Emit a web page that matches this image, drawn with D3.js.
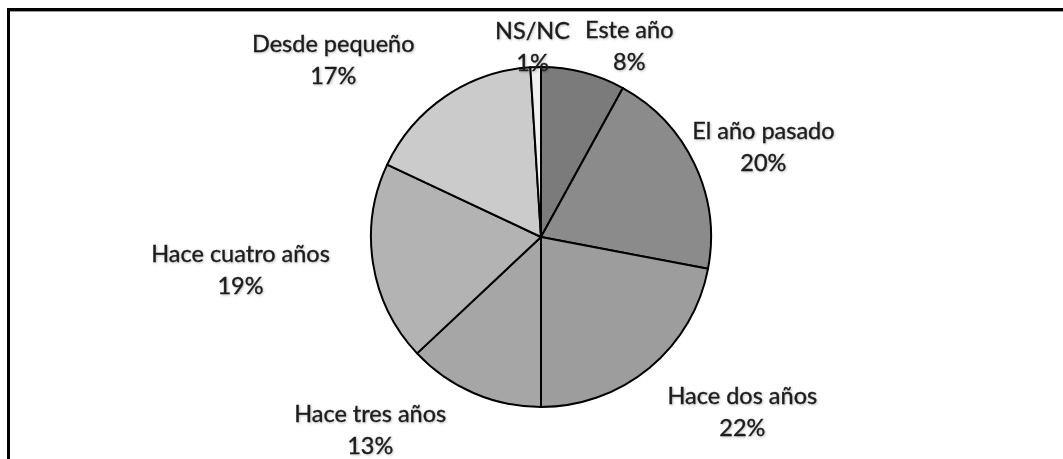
<!DOCTYPE html>
<html>
<head>
<meta charset="utf-8">
<script src="https://cdn.jsdelivr.net/npm/d3@7"></script>
<style>
  html, body { margin: 0; padding: 0; background: #fff; }
  svg { display: block; }
  .lbl { font-family: Lato, "Open Sans", sans-serif; font-size: 23.5px; fill: #1c1c1c;
         stroke: #1c1c1c; stroke-width: 0.35px; }
</style>
</head>
<body>
<svg id="chart"></svg>
<script>
// slice order: clockwise from 12 o'clock
var categories = ["Este año", "El año pasado", "Hace dos años", "Hace tres años",
                  "Hace cuatro años", "Desde pequeño", "NS/NC"];
var values = [8, 20, 22, 13, 19, 17, 1];
var percentLabels = ["8%", "20%", "22%", "13%", "19%", "17%", "1%"];
var shades = ["#7b7b7b", "#8b8b8b", "#9d9d9d", "#a6a6a6", "#b3b3b3", "#cbcbcb", "#f0f0f0"];

// hand tweaks of the label boxes away from the label arc (Excel "best fit")
var labelNudge = [[37, 8], [36, -3], [70, 15], [-89, 3], [-97, 0], [-92, -8], [-2, 15]];

var WID = 1063, HGT = 459;
var cx = 541, cy = 237, radius = 170;

var svg = d3.select("#chart")
    .attr("width", WID)
    .attr("height", HGT);

// frame (only top and left edges fall inside the picture)
svg.append("rect")
    .attr("x", 8.5).attr("y", 9.5)
    .attr("width", WID + 20).attr("height", HGT + 20)
    .attr("fill", "none")
    .attr("stroke", "#000")
    .attr("stroke-width", 3);
svg.append("line")
    .attr("x1", 10).attr("x2", WID).attr("y1", 11.5).attr("y2", 11.5)
    .attr("stroke", "#9a9a9a").attr("stroke-width", 1);

var defs = svg.append("defs");
var f = defs.append("filter").attr("id", "shadow")
    .attr("x", "-10%").attr("y", "-20%").attr("width", "120%").attr("height", "140%");
f.append("feDropShadow")
    .attr("dx", 1).attr("dy", 1).attr("stdDeviation", 1)
    .attr("flood-color", "#000").attr("flood-opacity", 0.25);

var pie = d3.pie().sort(null).value(function (d) { return d; });
var arcs = pie(values);

var arc = d3.arc().innerRadius(0).outerRadius(radius);
var g = svg.append("g").attr("transform", "translate(" + cx + "," + cy + ")");

g.selectAll("path.slice")
  .data(arcs)
  .enter().append("path")
    .attr("class", "slice")
    .attr("d", arc)
    .attr("fill", function (d, i) { return shades[i]; })
    .attr("stroke", "#000")
    .attr("stroke-width", 2)
    .attr("stroke-linejoin", "round");

var labelArc = d3.arc().innerRadius(radius + 36).outerRadius(radius + 36);

g.selectAll("text.lbl")
  .data(arcs)
  .enter().append("text")
    .attr("class", "lbl")
    .attr("text-anchor", "middle")
    .attr("dominant-baseline", "central")
    .attr("filter", "url(#shadow)")
    .attr("transform", function (d, i) {
      var c = labelArc.centroid(d);
      return "translate(" + (c[0] + labelNudge[i][0]) + "," + (c[1] + labelNudge[i][1]) + ")";
    })
    .each(function (d, i) {
      var t = d3.select(this);
      t.append("tspan").attr("x", 0).attr("y", -16).text(categories[i]);
      t.append("tspan").attr("x", 0).attr("y", 16).text(percentLabels[i]);
    });
</script>
</body>
</html>
